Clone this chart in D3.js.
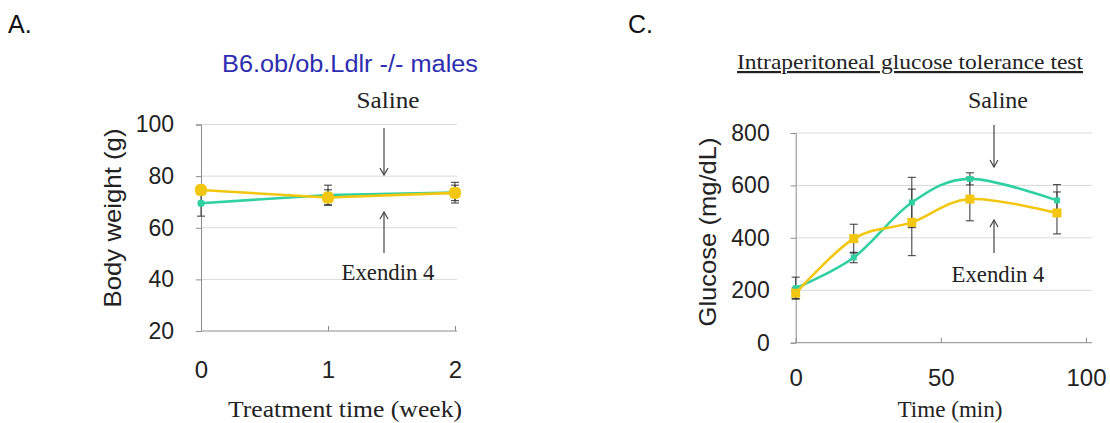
<!DOCTYPE html>
<html><head><meta charset="utf-8">
<script src="https://cdn.jsdelivr.net/npm/d3@7"></script>
<style>body{margin:0;background:#fff}svg{display:block}</style>
</head><body>
<svg id="c" width="1110" height="423"></svg>
<script>
// Panel A data
const weeks = [0, 1, 2];
const bwSaline = [69.5, 72.7, 73.6];
const bwSalineErr = [5, 3.8, 4];
const bwExendin = [74.6, 71.7, 73.5];
const bwExendinErr = [1.5, 3, 3];
const bwTicksY = [20, 40, 60, 80, 100];
const bwTicksX = [0, 1, 2];
// Panel C data
const minutes = [0, 20, 40, 60, 90];
const gluSaline = [208, 325, 535, 625, 543];
const gluSalineErr = [42, 20, 96, 23, 60];
const gluExendin = [189, 397, 459, 548, 495];
const gluExendinErr = [20, 55, 127, 83, 80];
const gluTicksY = [0, 200, 400, 600, 800];
const gluTicksX = [0, 50, 100];

const TEAL = "#2fd1a2", YELLOW = "#f3c60f", GRID = "#d9d9d9", AXIS = "#8c8c8c";
const svg = d3.select("#c");
const sans = "Arial, 'Liberation Sans', sans-serif";
const serif = "'Times New Roman', 'Liberation Serif', serif";

function fitText(sel, len) {
  return sel.attr("textLength", len).attr("lengthAdjust", "spacingAndGlyphs");
}

function panel(o) {
  const g = svg.append("g");
  const x = d3.scaleLinear().domain(o.xd).range(o.xr);
  const y = d3.scaleLinear().domain(o.yd).range(o.yr);
  g.append("g").selectAll("line").data(o.ty.slice(1)).join("line")
    .attr("x1", o.xr[0]).attr("x2", o.gridEnd)
    .attr("y1", d => y(d)).attr("y2", d => y(d))
    .attr("stroke", GRID).attr("stroke-width", 1);
  const ya = g.append("g").attr("transform", `translate(${o.xr[0]},0)`)
    .call(d3.axisLeft(y).tickValues(o.ty).tickFormat(d3.format("d")).tickSize(5).tickPadding(o.ypad));
  const xa = g.append("g").attr("transform", `translate(0,${o.yr[0]})`)
    .call(d3.axisBottom(x).tickValues(o.tx).tickFormat(d3.format("d")).tickSizeInner(-5).tickSizeOuter(0));
  [ya, xa].forEach(a => {
    a.select(".domain").attr("stroke", AXIS);
    a.selectAll(".tick line").attr("stroke", AXIS);
    a.selectAll("text").attr("font-family", sans).attr("font-size", 23).attr("fill", "#222");
  });
  xa.select(".domain").attr("d", `M${o.xr[0]},0H${o.gridEnd}`);
  xa.selectAll(".tick text").attr("y", o.xBase).attr("dy", 0).attr("font-size", 24);

  const line = d3.line().x((d, i) => x(o.xs[i])).y(d => y(d)).curve(o.curve);
  const series = [
    {v: o.s1, e: o.e1, c: TEAL, m: o.m1},
    {v: o.s2, e: o.e2, c: YELLOW, m: o.m2}
  ];
  series.forEach(s => {
    const eb = g.append("g").attr("stroke", "#333").attr("stroke-width", 1);
    s.v.forEach((v, i) => {
      const cx = x(o.xs[i]);
      eb.append("line").attr("x1", cx).attr("x2", cx).attr("y1", y(v - s.e[i])).attr("y2", y(v + s.e[i]));
      [v - s.e[i], v + s.e[i]].forEach(t => eb.append("line").attr("x1", cx - 4).attr("x2", cx + 4).attr("y1", y(t)).attr("y2", y(t)));
    });
  });
  series.forEach(s => {
    g.append("path").attr("d", line(s.v)).attr("fill", "none").attr("stroke", s.c).attr("stroke-width", 2.6);
    g.append("g").selectAll("rect").data(s.v).join("rect")
      .attr("x", (d, i) => x(o.xs[i]) - s.m / 2).attr("y", d => y(d) - s.m / 2)
      .attr("width", s.m).attr("height", s.m).attr("rx", o.round ? s.m / 2.5 : 0)
      .attr("fill", s.c);
  });
  fitText(svg.append("text").attr("transform", `translate(${o.ylx},${o.yly}) rotate(-90)`)
    .attr("text-anchor", "middle").attr("font-family", sans).attr("font-size", 24).attr("fill", "#222").text(o.ylabel), o.ylen);
  fitText(svg.append("text").attr("x", o.xlx).attr("y", o.xly).attr("text-anchor", "middle")
    .attr("font-family", serif).attr("font-size", 23).attr("fill", "#222").text(o.xlabel), o.xlen);
  return {x, y};
}

function arrow(xp, y1, y2) {
  svg.append("line").attr("x1", xp).attr("x2", xp).attr("y1", y1).attr("y2", y2).attr("stroke", "#444").attr("stroke-width", 1.2);
  const d = y2 > y1 ? -1 : 1;
  svg.append("path").attr("d", `M${xp - 4},${y2 + d * 7}L${xp},${y2}L${xp + 4},${y2 + d * 7}`)
    .attr("fill", "none").attr("stroke", "#444").attr("stroke-width", 1.2);
}
function note(xp, yp, t, len) {
  fitText(svg.append("text").attr("x", xp).attr("y", yp).attr("text-anchor", "middle")
    .attr("font-family", serif).attr("font-size", 23).attr("fill", "#222").text(t), len);
}

// Panel A
svg.append("text").attr("x", 8).attr("y", 33).attr("font-family", sans).attr("font-size", 25).attr("fill", "#111").text("A.");
fitText(svg.append("text").attr("x", 350).attr("y", 72).attr("text-anchor", "middle").attr("font-family", sans)
  .attr("font-size", 23).attr("fill", "#2d2db0").text("B6.ob/ob.Ldlr -/- males"), 256);
panel({xd: [0, 2], xr: [201, 455], yd: [20, 100], yr: [331, 124.5], gridEnd: 457,
  ty: bwTicksY, tx: bwTicksX, ypad: 22, xBase: 47,
  xs: weeks, s1: bwSaline, e1: bwSalineErr, s2: bwExendin, e2: bwExendinErr, m1: 7, m2: 12, round: true,
  curve: d3.curveLinear,
  ylabel: "Body weight (g)", ylx: 121, yly: 218, ylen: 179,
  xlabel: "Treatment time (week)", xlx: 345, xly: 417, xlen: 234});
note(388, 108, "Saline", 63);
arrow(384, 128, 175);
arrow(384, 253, 212);
note(388, 280, "Exendin 4", 93);

// Panel C
svg.append("text").attr("x", 628).attr("y", 33).attr("font-family", sans).attr("font-size", 25).attr("fill", "#111").text("C.");
fitText(svg.append("text").attr("x", 910).attr("y", 69).attr("text-anchor", "middle").attr("font-family", serif)
  .attr("font-size", 22).attr("fill", "#222").attr("text-decoration", "underline").text("Intraperitoneal glucose tolerance test"), 346);
panel({xd: [0, 100], xr: [795.7, 1086], yd: [0, 800], yr: [342.7, 133], gridEnd: 1092,
  ty: gluTicksY, tx: gluTicksX, ypad: 21, xBase: 43,
  xs: minutes, s1: gluSaline, e1: gluSalineErr, s2: gluExendin, e2: gluExendinErr, m1: 6, m2: 9, round: false,
  curve: d3.curveCardinal.tension(0),
  ylabel: "Glucose (mg/dL)", ylx: 716, yly: 232, ylen: 189,
  xlabel: "Time (min)", xlx: 950, xly: 417, xlen: 105});
note(998, 108, "Saline", 60);
arrow(994, 125, 167);
arrow(994, 253, 220);
note(998, 282, "Exendin 4", 93);
</script>
</body></html>
